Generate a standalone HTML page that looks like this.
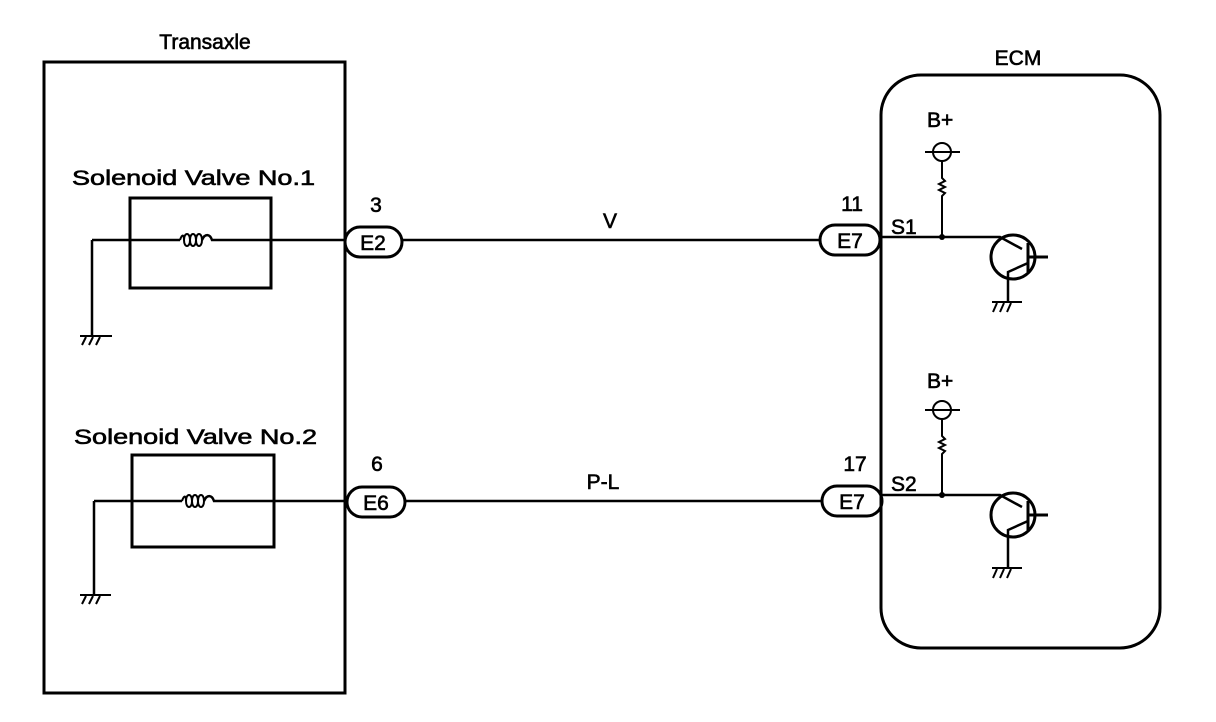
<!DOCTYPE html>
<html><head><meta charset="utf-8"><style>
html,body{margin:0;padding:0;background:#fff;width:1216px;height:722px;overflow:hidden}
svg text{font-family:"Liberation Sans",Arial,sans-serif;fill:#000;stroke:#000;stroke-width:0.6}
</style></head><body>
<svg width="1216" height="722" viewBox="0 0 1216 722" xmlns="http://www.w3.org/2000/svg">
<g fill="none" stroke="#000" stroke-width="2.5">
<rect x="44" y="62" width="301" height="631" stroke-width="3"/>
<rect x="881" y="75" width="279" height="573" rx="40" stroke-width="3"/>
<rect x="130" y="198" width="141" height="90" stroke-width="3"/>
<path d="M92 240 H180"/>
<path d="M180 240 c2 -6 4 -6 4 0 M184 240 c0 -8 6 -8 6 0 c0 8 -6 8 -6 0 m6 0 c0 -8 6 -8 6 0 c0 8 -6 8 -6 0 m6 0 c0 -8 6 -8 6 0 c0 8 -6 8 -6 0" stroke-width="2"/>
<path d="M202 240 c3 -7 8 -6 10 0 H345"/>
<path d="M92 240 V336"/>
<path d="M80 336 H112 M86 337 l-4 8 M93 337 l-4 8 M100 337 l-4 8" stroke-width="2"/>
<rect x="132" y="455" width="142" height="92" stroke-width="3"/>
<path d="M94 501 H182"/>
<path d="M182 501 c2 -6 4 -6 4 0 M186 501 c0 -8 6 -8 6 0 c0 8 -6 8 -6 0 m6 0 c0 -8 6 -8 6 0 c0 8 -6 8 -6 0 m6 0 c0 -8 6 -8 6 0 c0 8 -6 8 -6 0" stroke-width="2"/>
<path d="M204 501 c3 -7 8 -6 10 0 H347"/>
<path d="M94 501 V595"/>
<path d="M80 595 H111 M86 596 l-4 8 M93 596 l-4 8 M100 596 l-4 8" stroke-width="2"/>
<rect x="345" y="227" width="57" height="30" rx="15" stroke-width="3"/>
<rect x="347" y="487" width="58" height="30" rx="15" stroke-width="3"/>
<rect x="820" y="225" width="60" height="30" rx="15" stroke-width="3"/>
<rect x="822" y="486" width="60" height="30" rx="15" stroke-width="3"/>
<path d="M402 240 H820"/>
<path d="M405 501 H822"/>
<path d="M880 237 H1000 L1022 249"/>
<circle cx="942" cy="152" r="9" stroke-width="2"/>
<path d="M925 152 H960" stroke-width="2"/>
<path d="M942 161 V178 l3 3 l-6 3 l6 3 l-6 3 l6 3 l-3 3 V237" stroke-width="2"/>
<circle cx="1013" cy="257" r="22" stroke-width="3"/>
<path d="M1028 243 V272 M1028 257 H1048" stroke-width="3"/>
<path d="M1028 263 L1008 272 V302"/>
<path d="M992 302 H1022 M997 303 l-4 9 M1004 303 l-4 9 M1011 303 l-4 9" stroke-width="2"/>
<path d="M882 495 H1000 L1022 507"/>
<circle cx="942" cy="410" r="9" stroke-width="2"/>
<path d="M925 410 H960" stroke-width="2"/>
<path d="M942 419 V436 l3 3 l-6 3 l6 3 l-6 3 l6 3 l-3 3 V495" stroke-width="2"/>
<circle cx="1013" cy="515" r="22" stroke-width="3"/>
<path d="M1028 501 V530 M1028 515 H1048" stroke-width="3"/>
<path d="M1028 521 L1008 530 V568"/>
<path d="M992 568 H1022 M997 569 l-4 9 M1004 569 l-4 9 M1011 569 l-4 9" stroke-width="2"/>
</g>
<circle cx="942" cy="237" r="3"/><circle cx="942" cy="495" r="3"/>
<g font-size="21">
<text x="205" y="49" text-anchor="middle">Transaxle</text>
<text x="1018" y="65" text-anchor="middle">ECM</text>
<text x="72" y="185" textLength="243" lengthAdjust="spacingAndGlyphs">Solenoid Valve No.1</text>
<text x="74" y="444" textLength="243" lengthAdjust="spacingAndGlyphs">Solenoid Valve No.2</text>
<text x="376" y="212" text-anchor="middle">3</text>
<text x="377" y="471" text-anchor="middle">6</text>
<text x="852" y="211" text-anchor="middle">11</text>
<text x="855" y="471" text-anchor="middle">17</text>
<text x="610" y="228" text-anchor="middle">V</text>
<text x="603" y="489" text-anchor="middle">P-L</text>
<text x="373" y="250" text-anchor="middle">E2</text>
<text x="376" y="510" text-anchor="middle">E6</text>
<text x="850" y="248" text-anchor="middle">E7</text>
<text x="852" y="509" text-anchor="middle">E7</text>
<text x="891" y="234">S1</text>
<text x="891" y="491">S2</text>
<text x="927" y="127">B+</text>
<text x="927" y="388">B+</text>
</g>
</svg>
</body></html>
